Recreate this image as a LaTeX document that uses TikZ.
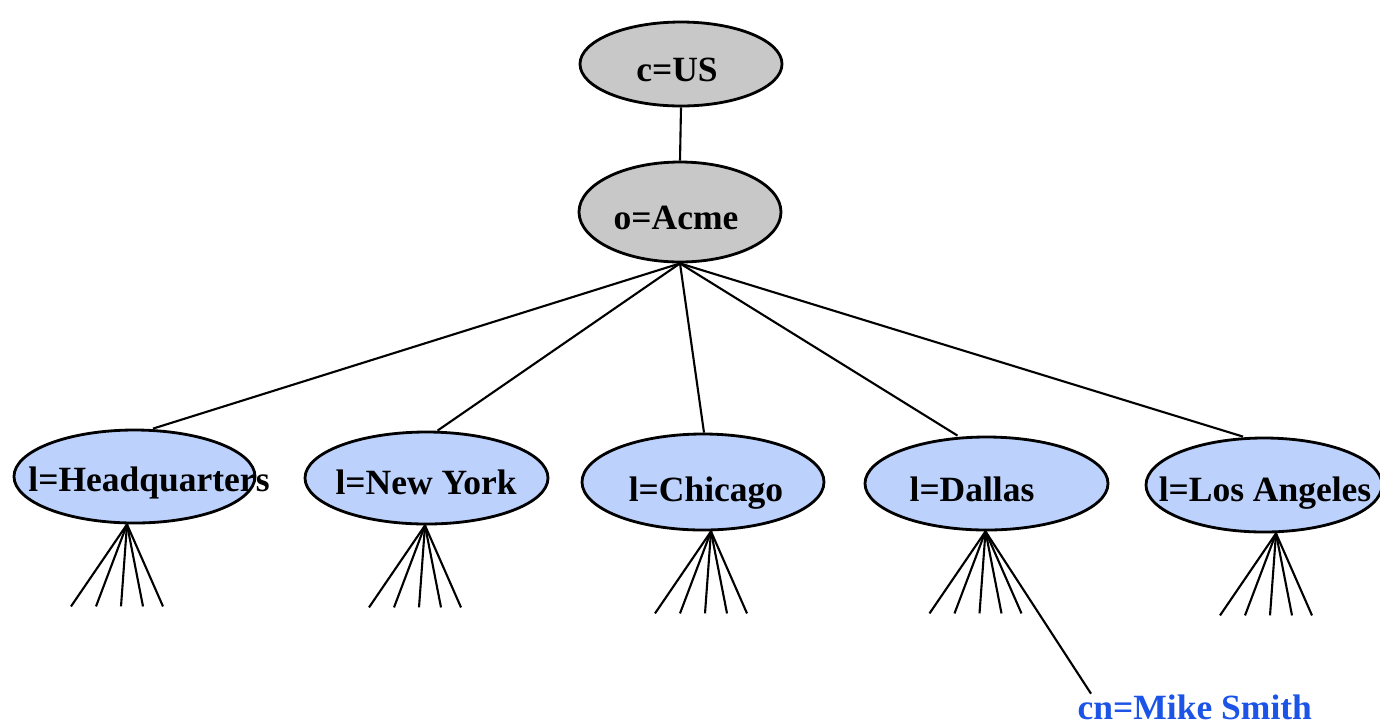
\documentclass[tikz,border=0pt]{standalone}
\usepackage{fontspec}
\setmainfont{Liberation Serif}
\usepackage{tikz}
\usetikzlibrary{calc,positioning,shapes}
\definecolor{entrygray}{RGB}{200,200,200}
\definecolor{entryblue}{RGB}{188,209,251}
\definecolor{cnblue}{RGB}{28,84,232}
\tikzstyle{topent}    = [ellipse, draw=black, line width=0.8pt, fill=entrygray, minimum width=2.02cm, inner sep=0pt]
\tikzstyle{locent}    = [ellipse, draw=black, line width=0.8pt, fill=entryblue, minimum height=0.93cm, inner sep=0pt]
\tikzstyle{lbl}       = [inner sep=0pt, font=\fontsize{10.1pt}{12pt}\selectfont\bfseries]
\tikzstyle{link}      = [line width=0.6pt]

\begin{document}
\begin{tikzpicture}
		\useasboundingbox (0,0) rectangle (13.8,-7.24);
		% top of the tree
		\node[topent, minimum height=0.84cm] (us) at (6.81,-0.64) {};
		\node[lbl] (ustext) at (6.77,-0.70) {c=US};
		\node[topent, minimum height=1.0cm] (acme) at (6.80,-2.12) {};
		\node[lbl] (acmetext) at (6.76,-2.18) {o=Acme};
		\draw[link] (us.south) -- (acme.north);
		% localities
		\node[locent, minimum width=2.41cm] (hq) at (1.345,-4.765) {};
		\node[lbl] (hqtext) at (1.49,-4.83) {l=Headquarters};
		\node[locent, minimum width=2.43cm, minimum height=0.92cm] (ny) at (4.265,-4.78) {};
		\node[lbl] (nytext) at (4.26,-4.82) {l=New York};
		\node[locent, minimum width=2.42cm, minimum height=0.96cm] (chi) at (7.03,-4.82) {};
		\node[lbl] (chitext) at (7.06,-4.93) {l=Chicago};
		\node[locent, minimum width=2.43cm] (dal) at (9.865,-4.835) {};
		\node[lbl] (daltext) at (9.72,-4.89) {l=Dallas};
		\node[locent, minimum width=2.36cm, minimum height=0.94cm] (la) at (12.64,-4.85) {};
		\node[lbl] (latext) at (12.65,-4.93) {l=Los Angeles};
		\draw[link] (acme.south) -- ([xshift=0.185cm]hq.north);
		\draw[link] (acme.south) -- ([xshift=0.11cm]ny.north);
		\draw[link] (acme.south) -- ([xshift=0.01cm]chi.north);
		\draw[link] (acme.south) -- ([xshift=-0.29cm]dal.north);
		\draw[link] (acme.south) -- ([xshift=-0.21cm]la.north);
		% entries below each locality
		\foreach \loc/\sh in {hq/-0.075, ny/-0.015, chi/0.08, dal/-0.01, la/0.12}
			\foreach \dx in {-0.56,-0.31,-0.06,0.16,0.36}
				\draw[link] ([xshift=\sh cm]\loc.south) -- ++(\dx,-0.82);
		\node[lbl, text=cnblue, anchor=base west] (mike) at (10.77,-7.19) {cn=Mike Smith};
		\draw[link] ([xshift=-0.01cm]dal.south) -- ([xshift=0.14cm]mike.north west);
	\end{tikzpicture}
\end{document}
